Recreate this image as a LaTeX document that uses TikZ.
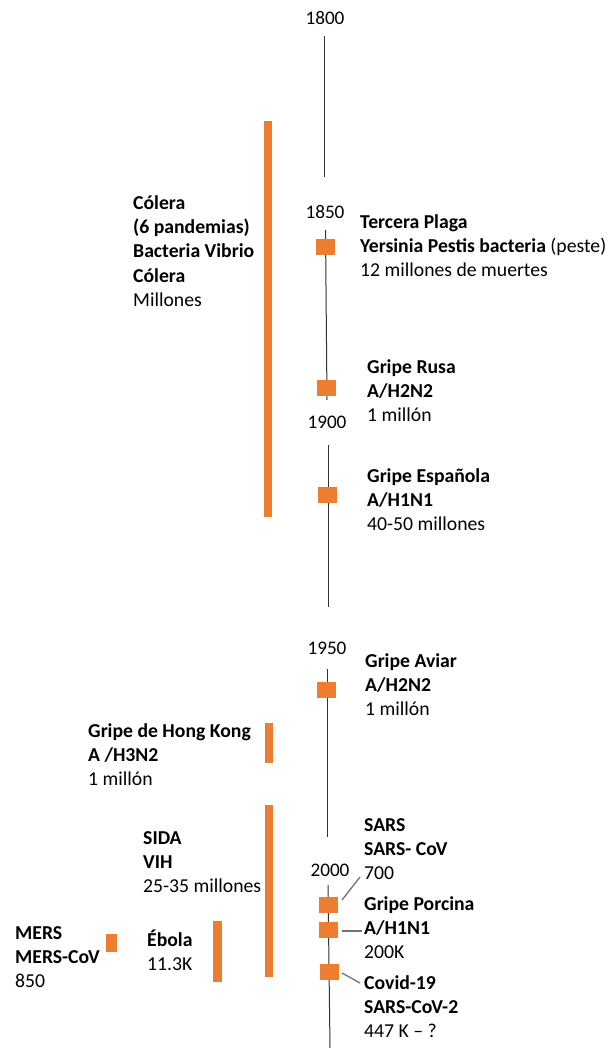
\documentclass[tikz,border=0pt]{standalone}
\usepackage{fontspec}
\setmainfont{Carlito}
\definecolor{orng}{HTML}{ED7D31}
\begin{document}
\begin{tikzpicture}[x=1pt,y=-1pt,
  lbl/.style={anchor=north west, inner sep=0pt, align=left, font=\fontsize{19.7}{24.3}\selectfont},
  yr/.style={inner sep=0pt, font=\fontsize{19.2}{23}\selectfont},
  sq/.style={fill=orng, draw=none, minimum width=19pt, minimum height=16pt, inner sep=0pt},
  bar/.style={fill=orng, draw=none},
  axis/.style={draw=black!80, line width=1pt},
  lead/.style={draw=black!55, line width=1.3pt}]
\useasboundingbox (0,0) rectangle (610,1048);

% year labels
\node[yr] (y1800) at (325,18) {1800};
\node[yr] (y1850) at (325,212) {1850};
\node[yr] (y1900) at (327,422) {1900};
\node[yr] (y1950) at (327,648) {1950};
\node[yr] (y2000) at (330,870) {2000};

% timeline segments
\coordinate (a1) at (324,36);   \coordinate (b1) at (324,177);
\coordinate (a2) at (325.5,230); \coordinate (b2) at (327,400);
\coordinate (a3) at (328,445);  \coordinate (b3) at (328,607);
\coordinate (a4) at (327,669);  \coordinate (b4) at (327,837);
\coordinate (a5) at (328,885);  \coordinate (b5) at (330,1048);
\draw[axis] (a1) -- (b1);
\draw[axis] (a2) -- (b2);
\draw[axis] (a3) -- (b3);
\draw[axis] (a4) -- (b4);
\draw[axis] (a5) -- (b5);

% event squares
\node[sq] (sqPlaga) at (325.5,247) {};
\node[sq] (sqRusa) at (326.5,387.5) {};
\node[sq] (sqEsp) at (327,495) {};
\node[sq] (sqAviar) at (326.5,690) {};
\node[sq] (sqSars) at (328.5,904.5) {};
\node[sq] (sqPorc) at (328.5,929.5) {};
\node[sq] (sqCovid) at (329,971.5) {};

% right labels
\node[lbl] (tPlaga) at (360,211) {\strut\textbf{Tercera Plaga}\\\textbf{Yersinia Pestis bacteria} (peste)\\12 millones de muertes};
\node[lbl] (tRusa) at (367,356) {\strut\textbf{Gripe Rusa}\\\textbf{A/H2N2}\\1 millón};
\node[lbl] (tEsp) at (367,465) {\strut\textbf{Gripe Española}\\\textbf{A/H1N1}\\40-50 millones};
\node[lbl] (tAviar) at (365,650) {\strut\textbf{Gripe Aviar}\\\textbf{A/H2N2}\\1 millón};
\node[lbl] (tSars) at (364,814) {\strut\textbf{SARS}\\\textbf{SARS- CoV}\\700};
\node[lbl] (tPorc) at (364,893) {\strut\textbf{Gripe Porcina}\\\textbf{A/H1N1}\\200K};
\node[lbl] (tCovid) at (364,972) {\strut\textbf{Covid-19}\\\textbf{SARS-CoV-2}\\447 K – ?};

% leader lines
\coordinate (lSars1) at (342,900);  \coordinate (lSars2) at (360,877);
\coordinate (lPorc1) at (342,931);  \coordinate (lPorc2) at (362,931);
\coordinate (lCov1) at (342,973);   \coordinate (lCov2) at (360,983);
\draw[lead] (lSars1) -- (lSars2);
\draw[lead] (lPorc1) -- (lPorc2);
\draw[lead] (lCov1) -- (lCov2);

% left bars
\fill[bar] (264,121) rectangle (272,517);
\fill[bar] (265,723) rectangle (273,763);
\fill[bar] (265,805) rectangle (273,977);
\fill[bar] (213,921) rectangle (222,982);
\fill[bar] (106,934) rectangle (117,952);

% left labels
\node[lbl] (tColera) at (133,192) {\strut\textbf{Cólera}\\\textbf{(6 pandemias)}\\\textbf{Bacteria Vibrio}\\\textbf{Cólera}\\Millones};
\node[lbl] (tHK) at (88,720) {\strut\textbf{Gripe de Hong Kong}\\\textbf{A /H3N2}\\1 millón};
\node[lbl] (tSida) at (143,827) {\strut\textbf{SIDA}\\\textbf{VIH}\\25-35 millones};
\node[lbl] (tEbola) at (147,929) {\strut\textbf{Ébola}\\11.3K};
\node[lbl] (tMers) at (15,922) {\strut\textbf{MERS}\\\textbf{MERS-CoV}\\850};
\end{tikzpicture}
\end{document}
